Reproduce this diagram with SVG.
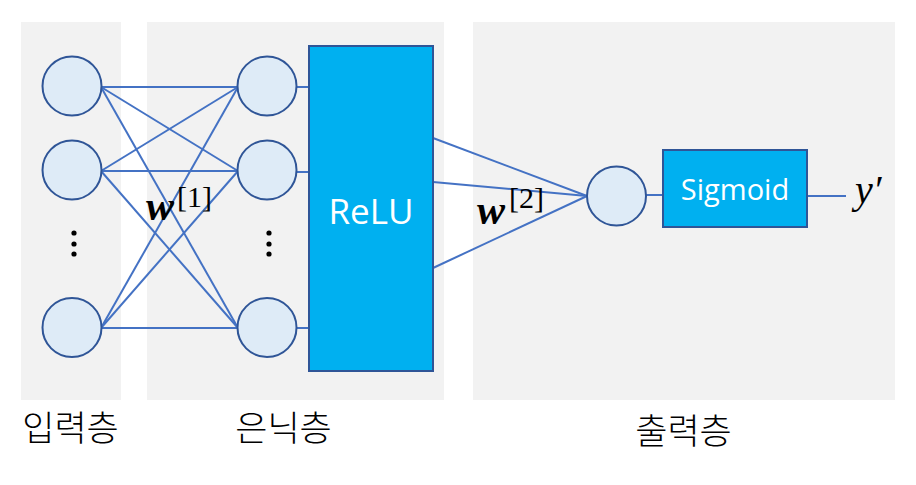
<svg xmlns="http://www.w3.org/2000/svg" width="916" height="485" viewBox="0 0 916 485">
<style>
.panel{fill:#F2F2F2;stroke:none}
.node{fill:#DEEBF7;stroke:#2F5597;stroke-width:2}
.box{fill:#00B0F0;stroke:#2F5597;stroke-width:2}
.conn{stroke:#4472C4;stroke-width:2;fill:none}
.dot{fill:#000}
.boxtxt{font-family:"Open Sans","Noto Sans",sans-serif;fill:#fff;text-anchor:middle}
.math{font-family:"Liberation Serif","DejaVu Serif",serif;fill:#000}
.kor{font-family:"Noto Sans CJK KR","Noto Sans",sans-serif;font-size:35px;font-weight:300;fill:#000;text-anchor:middle}
</style>
<rect width="916" height="485" fill="#fff"/>
<g id="panels">
<rect class="panel" x="21" y="22" width="100" height="378"/>
<rect class="panel" x="147" y="22" width="297" height="378"/>
<rect class="panel" x="473" y="22" width="422" height="378"/>
</g>
<g id="connectors">
<line class="conn" x1="101" y1="87" x2="238" y2="87"/>
<line class="conn" x1="101" y1="87" x2="238" y2="171"/>
<line class="conn" x1="101" y1="87" x2="238" y2="328"/>
<line class="conn" x1="101" y1="171" x2="238" y2="87"/>
<line class="conn" x1="101" y1="171" x2="238" y2="171"/>
<line class="conn" x1="101" y1="171" x2="238" y2="328"/>
<line class="conn" x1="101" y1="328" x2="238" y2="87"/>
<line class="conn" x1="101" y1="328" x2="238" y2="171"/>
<line class="conn" x1="101" y1="328" x2="238" y2="328"/>
<line class="conn" x1="297" y1="87" x2="309" y2="87"/>
<line class="conn" x1="297" y1="172" x2="309" y2="172"/>
<line class="conn" x1="297" y1="328" x2="309" y2="328"/>
<line class="conn" x1="433" y1="138" x2="587" y2="196"/>
<line class="conn" x1="433" y1="182" x2="587" y2="196"/>
<line class="conn" x1="433" y1="268" x2="587" y2="196"/>
<line class="conn" x1="646" y1="195" x2="663" y2="195"/>
<line class="conn" x1="807" y1="196" x2="846" y2="196"/>
</g>
<g id="input-nodes">
<circle id="in1" class="node" cx="72" cy="86" r="29.5"/>
<circle id="in2" class="node" cx="72" cy="170" r="29.5"/>
<circle id="in3" class="node" cx="72" cy="327.5" r="29.5"/>
<circle class="dot" cx="74" cy="233" r="2.6"/>
<circle class="dot" cx="74" cy="244" r="2.6"/>
<circle class="dot" cx="74" cy="254" r="2.6"/>
</g>
<g id="hidden-nodes">
<circle id="h1" class="node" cx="267" cy="86" r="29.5"/>
<circle id="h2" class="node" cx="267" cy="170" r="29.5"/>
<circle id="h3" class="node" cx="267" cy="327.5" r="29.5"/>
<circle class="dot" cx="269" cy="233" r="2.6"/>
<circle class="dot" cx="269" cy="244" r="2.6"/>
<circle class="dot" cx="269" cy="254" r="2.6"/>
</g>
<g id="relu">
<rect class="box" x="309" y="46" width="124" height="325"/>
<text class="boxtxt" x="371" y="224" font-size="35">ReLU</text>
</g>
<g id="output-node">
<circle class="node" cx="616.5" cy="196" r="29.5"/>
</g>
<g id="sigmoid">
<rect class="box" x="663" y="150" width="144" height="77"/>
<text class="boxtxt" x="735" y="200" font-size="29">Sigmoid</text>
</g>
<g id="labels">
<text class="math" x="146" y="220" font-size="42" font-weight="bold" font-style="italic">w</text>
<text class="math" x="177" y="207" font-size="30">[1]</text>
<text class="math" x="477" y="224" font-size="42" font-weight="bold" font-style="italic">w</text>
<text class="math" x="509" y="208" font-size="30">[2]</text>
<text class="math" x="855" y="203" font-size="40" font-style="italic">y′</text>
<text class="kor" x="70.5" y="441">입력층</text>
<text class="kor" x="283.5" y="441">은닉층</text>
<text class="kor" x="683.5" y="444">출력층</text>
</g>
</svg>
